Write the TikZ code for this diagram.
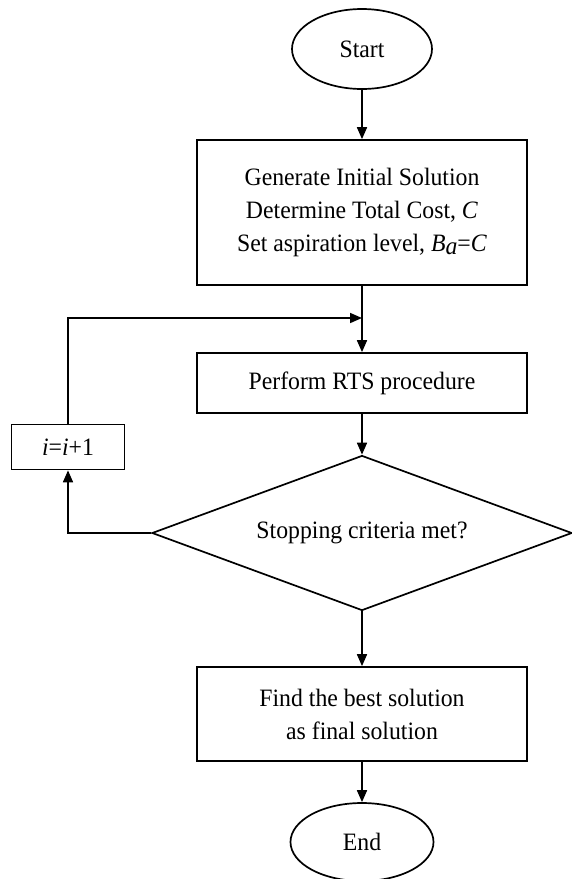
\documentclass[tikz,border=0pt]{standalone}
\usepackage{fontspec}
\setmainfont[FakeStretch=0.95]{Liberation Serif}
\usetikzlibrary{shapes.geometric,arrows.meta}
\begin{document}
\begin{tikzpicture}[x=1pt,y=-1pt,
  every node/.style={font=\fontsize{25}{33}\selectfont, align=center, inner sep=0pt},
  stepbox/.style={draw, line width=1.7pt, minimum width=330pt},
  term/.style={draw, ellipse, line width=1.7pt, minimum width=140pt, minimum height=80pt},
  decision/.style={draw, diamond, line width=1.7pt, aspect=2.71, minimum width=420pt, minimum height=155pt},
  arr/.style={line width=1.7pt, -{Triangle[length=12pt,width=10pt]}}]
\useasboundingbox (0,0) rectangle (571,879);
\node[term] (start) at (362,49) {Start};
\node[stepbox, minimum height=145pt] (b1) at (362,212.5) {Generate Initial Solution\\Determine Total Cost, \textit{C}\\Set aspiration level, \textit{B}\raisebox{-0.25ex}{\textit{a}}=\textit{C}};
\node[stepbox, minimum height=60pt] (b2) at (362,383) {Perform RTS procedure};
\node[decision] (d) at (362,533) {Stopping criteria met?};
\node[stepbox, minimum height=94pt] (b3) at (362,714) {Find the best solution\\as final solution};
\node[term, minimum width=143pt, minimum height=78pt] (end) at (362,842) {End};
\node[draw, line width=1.7pt, minimum width=113pt, minimum height=45pt] (inc) at (68,447) {\textit{i}=\textit{i}+1};
\coordinate (join) at (362,318);
\draw[arr] (start) -- (b1);
\draw[arr] (b1) -- (b2);
\draw[arr] (inc.north) |- (join);
\draw[arr] (b2) -- (d);
\draw[arr] (d) -- (b3);
\draw[arr] (b3) -- (end);
\draw[arr] (d.west) -| (inc.south);
\end{tikzpicture}
\end{document}
